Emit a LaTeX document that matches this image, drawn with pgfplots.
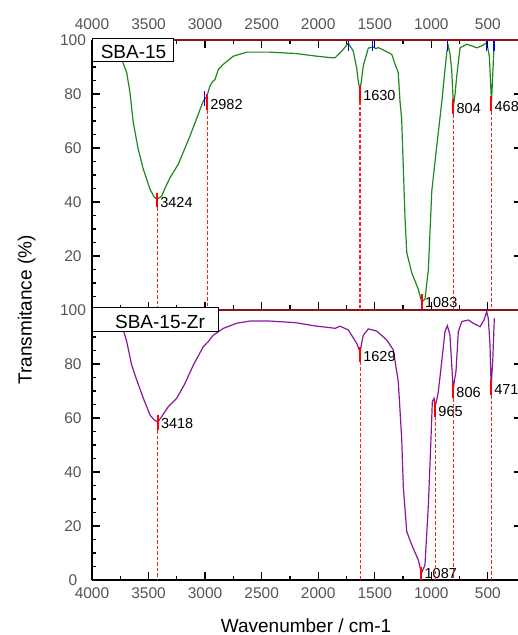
\documentclass[border=0pt]{standalone}
\usepackage{fontspec}
\setmainfont{Liberation Sans}
\usepackage{pgfplots}
\pgfplotsset{compat=1.18}

\definecolor{spec1}{RGB}{30,135,30}
\definecolor{spec2}{RGB}{135,25,150}
\definecolor{darkred}{RGB}{140,20,20}
\definecolor{tickgray}{RGB}{85,85,85}
\definecolor{dashred}{RGB}{255,30,30}

\newcommand{\tickfont}{\fontsize{15.5bp}{18bp}\selectfont}
\newcommand{\peakfont}{\fontsize{14.5bp}{17bp}\selectfont}
\newcommand{\bigfont}{\fontsize{19bp}{23bp}\selectfont}

% peak marker: wavenumber, marker top, marker bottom, label y
\newcommand{\peak}[4]{%
  \addplot[dashred, line width=1.2bp, dash pattern=on 3.5bp off 2bp, forget plot] coordinates {(#1,#3) (#1,0)};
  \addplot[red, line width=2bp, forget plot] coordinates {(#1,#2) (#1,#3)};
  \node[anchor=west, inner sep=0pt, font=\peakfont] at (axis cs:#1,#4) {\hspace{3bp}#1};
}

\pgfplotsset{
  panel/.style={
    scale only axis, width=429.8bp, height=270bp, anchor=south west,
    x dir=reverse, xmin=200, xmax=4000, ymin=0, ymax=100,
    tick align=inside, major tick length=8bp, minor tick length=4.5bp,
    tick style={black, line width=1.2bp},
    axis line style={-, line width=1.3bp, black},
    ticklabel style={font=\tickfont, text=tickgray},
    /pgf/number format/assume math mode=true,
    /pgf/number format/1000 sep={},
    xtick={500,1000,...,4000}, minor x tick num=1,
    ytick={0,20,...,100}, minor y tick num=3,
    clip=false,
  },
  mainpanel/.style={panel, axis x line*=bottom, axis y line*=left,
    yticklabel style={anchor=center, xshift=-19bp}},
  overpanel/.style={panel, axis x line*=top, axis y line*=right,
    x axis line style={-, draw=darkred, line width=2bp},
    minor y tick num=0, yticklabels={}},
}

\begin{document}
\begin{tikzpicture}

% ---------- top panel: SBA-15 ----------
\begin{axis}[mainpanel, at={(0bp,270bp)}, xticklabels={},
  yticklabels={,20,40,60,80,100}]
\addplot[spec1, line width=1.2bp] coordinates {
(3760,98) (3732,92.2) (3693,87.9) (3664,80.5) (3635,69.4) (3591,59.5)
(3546,52.1) (3487,44.7) (3450,41.8) (3424,41) (3384,42.2) (3350,45.5)
(3310,49) (3237,54) (3134,64.4) (3016,77.4) (2990,78.8) (2982,79.5)
(2957,83) (2935,84.5) (2912,85.4) (2883,89.1) (2839,91) (2751,94)
(2632,95.5) (2426,95.5) (2200,95) (2013,94) (1900,93.5) (1851,93.4)
(1792,95.9) (1734,98.8) (1690,95.9) (1675,92.8) (1660,89.7) (1645,84.5)
(1630,81.5) (1618,85) (1601,90.5) (1557,97) (1513,97.4) (1490,96.8)
(1470,97.2) (1424,96.3) (1350,94.7) (1320,91) (1292,87.9) (1277,77.4)
(1262,70.6) (1247,52.1) (1232,33.6) (1217,21.2) (1173,13.8) (1115,7.7)
(1095,4.5) (1083,3) (1056,4) (1026,15) (996,44) (952,60.7) (908,76.8)
(864,95.3) (850,97.8) (835,95) (820,89.1) (804,75.5) (790,80) (775,86.7)
(746,97.1) (687,98.4) (640,97.8) (598,97.1) (554,97.8) (510,99) (487,94)
(468,77) (452,91.6) (443,99.6)
};
\peak{3424}{43.5}{38}{39.7}
\peak{2982}{80}{74}{76}
\peak{1630}{83}{77.4}{79.3}
\peak{1083}{6}{0}{2.7}
\peak{804}{78}{72.5}{74.6}
\peak{468}{79.3}{73.7}{75.2}
\addplot[blue, line width=1.5bp] coordinates {(3007,81) (3007,75.5)};
\addplot[blue, line width=1.5bp] coordinates {(1734,100) (1734,96)};
\addplot[blue, line width=1.5bp] coordinates {(1518,100) (1518,96)};
\addplot[blue, line width=1.5bp] coordinates {(855,100) (855,96)};
\addplot[blue, line width=1.5bp] coordinates {(510,100) (510,96)};
\addplot[blue, line width=1.5bp] coordinates {(446,100) (446,96)};
\end{axis}
\begin{axis}[overpanel, at={(0bp,270bp)}, xticklabel style={yshift=7bp}]
\end{axis}

% ---------- bottom panel: SBA-15-Zr ----------
\begin{axis}[mainpanel, at={(0bp,0bp)}, xticklabel style={yshift=-4bp}]
\addplot[spec2, line width=1.2bp] coordinates {
(3760,98) (3723,92.6) (3693,88.3) (3649,79.6) (3605,74.1) (3546,67.3)
(3487,61.1) (3450,59.3) (3418,58.5) (3384,60.5) (3325,64.2) (3251,67.3)
(3178,72.8) (3104,79.6) (3016,86.4) (2972,88.3) (2927,90.7) (2839,93.2)
(2721,95.1) (2603,95.9) (2426,95.9) (2200,95.3) (2013,94) (1900,93.5)
(1851,93.2) (1807,94) (1734,92.6) (1660,87.7) (1640,85.5) (1629,84.5)
(1615,88) (1601,90.7) (1557,93) (1483,92.2) (1394,88.9) (1336,85.2)
(1292,73.5) (1262,52.5) (1247,34) (1217,17.9) (1173,13) (1115,7.4)
(1087,2.5) (1056,5.6) (1026,27.8) (1005,50) (991,66) (976,67.3)
(965,64.5) (950,67) (938,69.7) (908,80.9) (879,92) (858,94.2) (835,90.7)
(820,80) (806,70.5) (795,74) (782,77.2) (761,92) (731,95.7) (673,96.3)
(629,95.1) (569,93.8) (534,96.3) (510,99.4) (496,96.9) (481,87)
(471,71.5) (456,82) (443,96.9)
};
\peak{3418}{61}{55.5}{58}
\peak{1629}{86.4}{80.9}{82.7}
\peak{1087}{5}{0}{2.5}
\peak{965}{66}{60.5}{62.3}
\peak{806}{73}{67.4}{69.5}
\peak{471}{74}{68.5}{70.4}
\end{axis}
\begin{axis}[overpanel, at={(0bp,0bp)}, xtick=\empty]
\end{axis}

% labels and boxes
\node[rotate=90, anchor=base, font=\bigfont] at (-60.3bp,270bp) {Transmitance (\%)};
\node[anchor=base, font=\bigfont] at (214bp,-52bp) {Wavenumber / cm-1};
\draw[fill=white, line width=1bp] (0bp,518bp) rectangle (81bp,541bp);
\node[font=\bigfont] at (41.5bp,528.5bp) {SBA-15};
\draw[fill=white, line width=1bp] (0bp,248bp) rectangle (126bp,272bp);
\node[font=\bigfont] at (68bp,258.3bp) {SBA-15-Zr};

\pgfresetboundingbox
\path[use as bounding box] (-92bp,-55bp) rectangle (426bp,580bp);
\end{tikzpicture}
\end{document}
